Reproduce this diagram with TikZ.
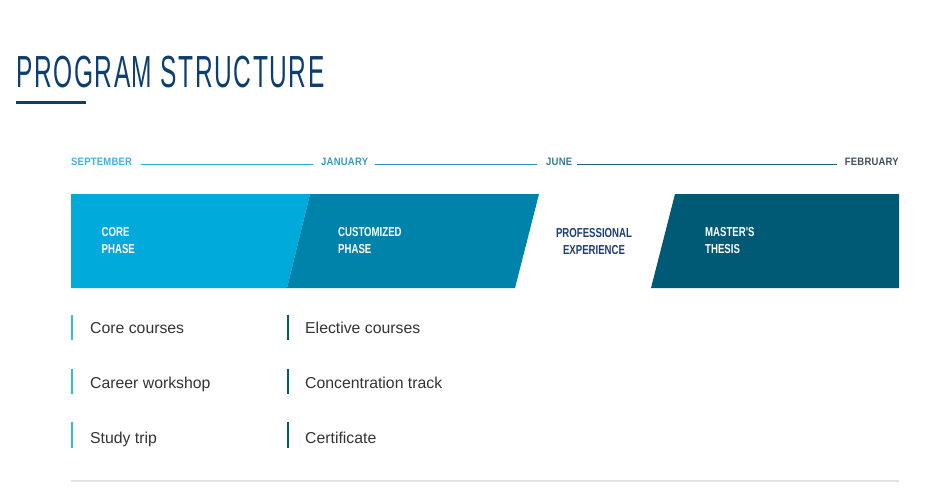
\documentclass[tikz,border=0pt]{standalone}
\usepackage{fontspec}
\setmainfont{Liberation Sans}
\newfontfamily\titlefont[FakeStretch=0.545,LetterSpace=3.5]{Liberation Sans}
\newfontfamily\bandfont[FakeStretch=0.74]{Liberation Sans}
\newfontfamily\monthfont[FakeStretch=0.88,LetterSpace=2]{Liberation Sans}
\definecolor{titleblue}{HTML}{0D3E70}
\definecolor{coreblue}{HTML}{00AADB}
\definecolor{custblue}{HTML}{0083AA}
\definecolor{thesisblue}{HTML}{005A75}
\definecolor{profblue}{HTML}{1F3D73}
\definecolor{sepcol}{HTML}{3BB4E5}
\definecolor{jancol}{HTML}{3C98C0}
\definecolor{juncol}{HTML}{2D7D98}
\definecolor{febcol}{HTML}{3E4F5C}
\definecolor{line1}{HTML}{29A8DC}
\definecolor{line2}{HTML}{2E8CB5}
\definecolor{line3}{HTML}{1F5F77}
\definecolor{itemgray}{HTML}{333333}
\definecolor{rulegray}{HTML}{E2E2E2}
\begin{document}
\begin{tikzpicture}[x=1pt,y=-1pt,
  month/.style={inner sep=0pt,anchor=base west,font=\monthfont\bfseries\fontsize{10.8}{12}\selectfont},
  bandtext/.style={inner sep=0pt,anchor=north west,align=left,text=white,font=\bandfont\bfseries\fontsize{13}{17}\selectfont},
  item/.style={inner sep=0pt,anchor=base west,text=itemgray,font=\fontsize{15.8}{19}\selectfont},
  lbar/.style={line width=2.5pt,coreblue!80!white},
  rbar/.style={line width=2.5pt,thesisblue}]
\useasboundingbox (0,0) rectangle (949,493);
% title
\node[inner sep=0pt,anchor=base west,text=titleblue,font=\titlefont\fontsize{45}{50}\selectfont] (title) at (16,87) {PROGRAM STRUCTURE};
\draw[titleblue,line width=3pt] (16,102.5) -- (86,102.5);
% timeline
\node[month,text=sepcol] (sep) at (71,165) {SEPTEMBER};
\node[month,text=jancol] (jan) at (321,165) {JANUARY};
\node[month,text=juncol] (jun) at (546,165) {JUNE};
\node[month,text=febcol,anchor=base east] (feb) at (899,165) {FEBRUARY};
\draw[line1,line width=0.9pt] (141,164) -- (313,164);
\draw[line2,line width=0.9pt] (375,164) -- (537,164);
\draw[line3,line width=0.9pt] (577,164) -- (837,164);
% bands
\fill[coreblue] (71,194) -- (310,194) -- (287,288) -- (71,288) -- cycle;
\fill[custblue] (310,194) -- (539,194) -- (515,288) -- (287,288) -- cycle;
\fill[thesisblue] (675,194) -- (899,194) -- (899,288) -- (651,288) -- cycle;
\node[bandtext] (core) at (101.5,227) {CORE\\PHASE};
\node[bandtext] (cust) at (338,227) {CUSTOMIZED\\PHASE};
\node[bandtext,align=center,anchor=north,text=profblue] (prof) at (594,228) {PROFESSIONAL\\EXPERIENCE};
\node[bandtext] (thesis) at (705,227) {MASTER'S\\THESIS};
% items
\draw[lbar] (72,315) -- (72,340);
\draw[lbar] (72,369) -- (72,394);
\draw[lbar] (72,422) -- (72,448);
\draw[rbar] (288,315) -- (288,340);
\draw[rbar] (288,369) -- (288,394);
\draw[rbar] (288,422) -- (288,448);
\node[item] (i1) at (90,333) {Core courses};
\node[item] (i2) at (90,388) {Career workshop};
\node[item] (i3) at (90,443) {Study trip};
\node[item] (i4) at (305,333) {Elective courses};
\node[item] (i5) at (305,388) {Concentration track};
\node[item] (i6) at (305,443) {Certificate};
% bottom rule
\draw[rulegray,line width=1.5pt] (71,481) -- (899,481);
\end{tikzpicture}
\end{document}
